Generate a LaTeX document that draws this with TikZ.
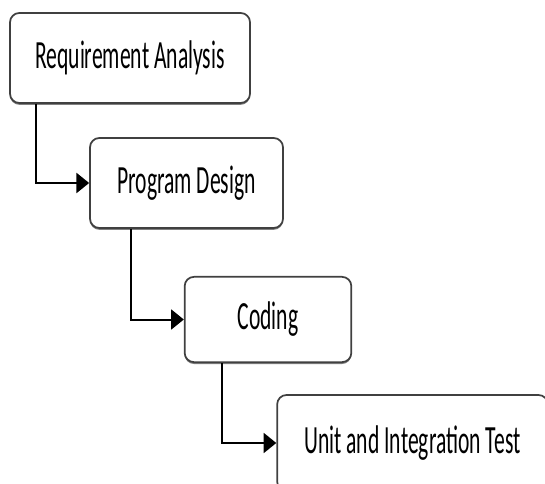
\documentclass[tikz,border=0pt]{standalone}
\usepackage{fontspec}
\setmainfont{Carlito}[FakeStretch=0.54]
\usetikzlibrary{arrows.meta,positioning,shadows}

\tikzset{
    phase/.style={draw=black!75,line width=1.3pt,rounded corners=7pt,fill=white,
        drop shadow={shadow xshift=0pt,shadow yshift=-1.4pt,fill=black!50,opacity=1},
        font=\fontsize{30}{32}\selectfont,inner sep=0pt},
    flow/.style={line width=1.5pt,-{Triangle[length=9.5pt,width=15pt]}}
}

\begin{document}
\begin{tikzpicture}[x=0.75pt,y=-0.75pt]
        \useasboundingbox (0,0) rectangle (545,484);
        \clip (0,0) rectangle (545,484);

        % Phases, stepping down to the right
        \node[phase,minimum width=180pt,minimum height=67.5pt] (req) at (130,58) {Requirement Analysis};
        \node[phase,minimum width=144.75pt,minimum height=67.5pt] (design) at (186.5,183) {Program Design};
        \node[phase,minimum width=125pt,minimum height=64pt] (coding) at (268,319.5) {Coding};
        \node[phase,minimum width=203pt,minimum height=72pt] (test) at (412.5,443) {Unit and Integration Test};

        % Links between phases
        \draw[flow] ([xshift=20.25pt]req.south west) |- (design.west);
        \draw[flow] ([xshift=31.5pt]design.south west) |- (coding.west);
        \draw[flow] ([xshift=28.5pt]coding.south west) |- (test.west);

    \end{tikzpicture}
\end{document}
